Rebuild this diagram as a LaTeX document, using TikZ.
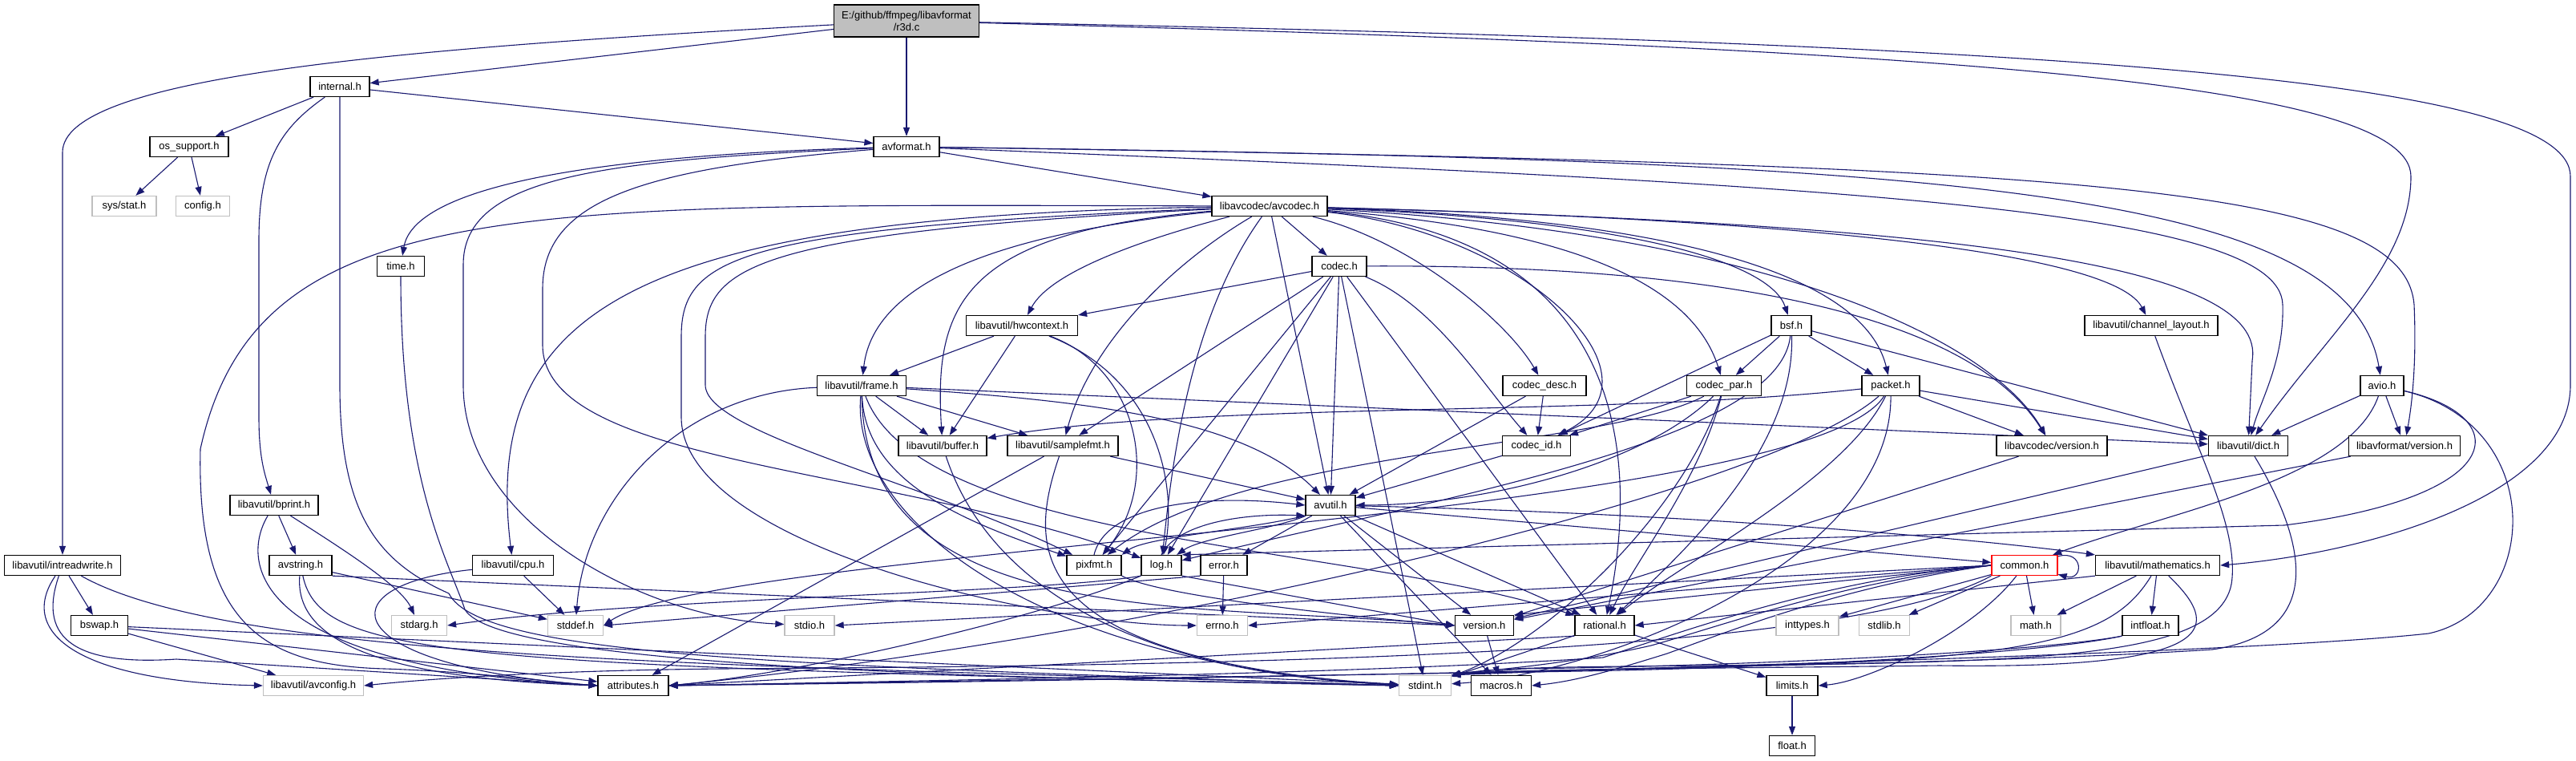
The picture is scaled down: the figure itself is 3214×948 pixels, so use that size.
\documentclass[tikz,border=0pt]{standalone}
\usepackage{fontspec}
\setmainfont{Liberation Sans}
\usetikzlibrary{arrows.meta}
\definecolor{edgec}{HTML}{191970}
\definecolor{extc}{HTML}{BFBFBF}
\definecolor{rootfill}{HTML}{BFBFBF}
\pgfdeclarelayer{bg}
\pgfsetlayers{bg,main}
\begin{document}
\begin{tikzpicture}[x=1pt,y=-1pt,
  nd/.style={draw=black, fill=white, line width=1.3pt, minimum height=25pt, inner sep=0pt, font=\fontsize{13}{15}\selectfont},
  ext/.style={nd, draw=extc},
  ln/.style={draw=edgec, line width=1.1pt, -{Triangle[length=11pt,width=8pt]}},
]
\useasboundingbox (0,0) rectangle (3214,948);

\node[nd, fill=rootfill, minimum width=181pt, minimum height=40pt, align=center] (r3d) at (1131,26) {E:/github/ffmpeg/libavformat\\/r3d.c};
\node[nd, minimum width=74pt] (internal) at (424,108) {internal.h};
\node[nd, minimum width=82pt] (avformat) at (1131,183) {avformat.h};
\node[nd, minimum width=98pt] (osup) at (236,183) {os\_support.h};
\node[ext, minimum width=80pt] (sysstat) at (155,257) {sys/stat.h};
\node[ext, minimum width=67pt] (config) at (253,257) {config.h};
\node[nd, minimum width=144pt] (avcodec) at (1584,257) {libavcodec/avcodec.h};
\node[nd, minimum width=59pt] (timeh) at (500,332) {time.h};
\node[nd, minimum width=68pt] (codec) at (1671,332) {codec.h};
\node[nd, minimum width=139pt] (hwctx) at (1275,406) {libavutil/hwcontext.h};
\node[nd, minimum width=50pt] (bsf) at (2235,406) {bsf.h};
\node[nd, minimum width=166pt] (chl) at (2684,406) {libavutil/channel\_layout.h};
\node[nd, minimum width=111pt] (frame) at (1075,481) {libavutil/frame.h};
\node[nd, minimum width=104pt] (cdesc) at (1927,481) {codec\_desc.h};
\node[nd, minimum width=93pt] (cpar) at (2151,481) {codec\_par.h};
\node[nd, minimum width=72pt] (packet) at (2359,481) {packet.h};
\node[nd, minimum width=54pt] (avio) at (2972,481) {avio.h};
\node[nd, minimum width=110pt] (buffer) at (1176,556) {libavutil/buffer.h};
\node[nd, minimum width=138pt] (sfmt) at (1326,556) {libavutil/samplefmt.h};
\node[nd, minimum width=85pt] (cid) at (1917,556) {codec\_id.h};
\node[nd, minimum width=138pt] (lcver) at (2560,556) {libavcodec/version.h};
\node[nd, minimum width=99pt] (dict) at (2805,556) {libavutil/dict.h};
\node[nd, minimum width=139pt] (lfver) at (3000,556) {libavformat/version.h};
\node[nd, minimum width=110pt] (bprint) at (342,630) {libavutil/bprint.h};
\node[nd, minimum width=62pt] (avutil) at (1660,630) {avutil.h};
\node[nd, minimum width=145pt] (irw) at (78,705) {libavutil/intreadwrite.h};
\node[nd, minimum width=78pt] (avstring) at (375,705) {avstring.h};
\node[nd, minimum width=101pt] (cpu) at (640,705) {libavutil/cpu.h};
\node[nd, minimum width=68pt] (pixfmt) at (1365,705) {pixfmt.h};
\node[nd, minimum width=50pt] (log) at (1449,705) {log.h};
\node[nd, minimum width=58pt] (error) at (1527,705) {error.h};
\node[nd, draw=red, minimum width=82pt] (common) at (2526,705) {common.h};
\node[nd, minimum width=155pt] (mathem) at (2692,705) {libavutil/mathematics.h};
\node[nd, minimum width=71pt] (bswap) at (124,780) {bswap.h};
\node[ext, minimum width=69pt] (stdarg) at (523,780) {stdarg.h};
\node[ext, minimum width=69pt] (stddef) at (718,780) {stddef.h};
\node[ext, minimum width=62pt] (stdio) at (1010,780) {stdio.h};
\node[ext, minimum width=63pt] (errno) at (1525,780) {errno.h};
\node[nd, minimum width=73pt] (version) at (1852,780) {version.h};
\node[nd, minimum width=74pt] (rational) at (2002,780) {rational.h};
\node[ext, minimum width=78pt] (inttypes) at (2255,780) {inttypes.h};
\node[ext, minimum width=63pt] (stdlib) at (2351,780) {stdlib.h};
\node[ext, minimum width=62pt] (mathh) at (2540,780) {math.h};
\node[nd, minimum width=70pt] (intfloat) at (2683,780) {intfloat.h};
\node[ext, minimum width=125pt] (avconfig) at (391,855) {libavutil/avconfig.h};
\node[nd, minimum width=88pt] (attrib) at (790,855) {attributes.h};
\node[ext, minimum width=65pt] (stdint) at (1778,855) {stdint.h};
\node[nd, minimum width=75pt] (macros) at (1873,855) {macros.h};
\node[nd, minimum width=64pt] (limits) at (2236,855) {limits.h};
\node[nd, minimum width=57pt] (floath) at (2236,930) {float.h};

\begin{pgfonlayer}{bg}
\fill[white] (0,0) rectangle (3214,948);
% r3d.c
\draw[ln] (r3d) -- (internal);
\draw[ln] (r3d) .. controls (500,60) and (78,95) .. (78,190) -- (irw);
\draw[ln] (r3d) -- (avformat);
\draw[ln] (r3d) .. controls (2400,60) and (3008,100) .. (3008,220) .. controls (3008,330) and (2900,420) .. (dict);
\draw[ln] (r3d) .. controls (2600,55) and (3207,100) .. (3207,220) -- (3207,480) .. controls (3207,620) and (2950,690) .. (mathem.east);
% internal.h
\draw[ln] (internal) -- (osup);
\draw[ln] (internal) -- (avformat);
\draw[ln] (internal) .. controls (350,160) and (323,200) .. (323,300) -- (323,520) .. controls (323,570) and (330,590) .. (bprint);
\draw[ln] (internal) -- (424,480) .. controls (424,640) and (470,700) .. (560,740) .. controls (600,820) and (1000,830) .. (stdint.west);
% os_support.h
\draw[ln] (osup) -- (sysstat);
\draw[ln] (osup) -- (config);
% avformat.h
\draw[ln] (avformat) .. controls (700,195) and (515,240) .. (timeh);
\draw[ln] (avformat) .. controls (750,200) and (578,220) .. (578,330) -- (578,480) .. controls (578,650) and (800,770) .. (stdio);
\draw[ln] (avformat) .. controls (800,210) and (677,250) .. (677,360) -- (677,430) .. controls (677,580) and (1100,580) .. (log);
\draw[ln] (avformat) -- (avcodec);
\draw[ln] (avformat) .. controls (2400,200) and (2930,230) .. (avio);
\draw[ln] (avformat) .. controls (2600,205) and (3000,230) .. (3012,380) .. controls (3015,450) and (3010,500) .. (lfver);
\draw[ln] (avformat) .. controls (2300,230) and (2845,260) .. (2848,380) .. controls (2850,450) and (2820,500) .. (dict);
% avcodec.h
\draw[ln] (avcodec) -- (codec);
\draw[ln] (avcodec) .. controls (800,270) and (600,380) .. (cpu);
\draw[ln] (avcodec) .. controls (650,255) and (320,240) .. (250,560) .. controls (245,780) and (330,830) .. (480,834) .. controls (600,838) and (680,850) .. (attrib.west);
\draw[ln] (avcodec) .. controls (1250,290) and (1090,350) .. (frame);
\draw[ln] (avcodec) .. controls (1420,300) and (1310,340) .. (hwctx);
\draw[ln] (avcodec) .. controls (1200,290) and (1165,380) .. (buffer);
\draw[ln] (avcodec) .. controls (1460,330) and (1360,430) .. (sfmt);
\draw[ln] (avcodec) -- (avutil);
\draw[ln] (avcodec) .. controls (1760,300) and (1880,400) .. (cdesc);
\draw[ln] (avcodec) .. controls (1900,290) and (2090,470) .. (cid);
\draw[ln] (avcodec) .. controls (1950,285) and (2110,350) .. (cpar);
\draw[ln] (avcodec) .. controls (2050,275) and (2210,330) .. (bsf);
\draw[ln] (avcodec) .. controls (2150,275) and (2330,360) .. (packet);
\draw[ln] (avcodec) .. controls (2300,275) and (2640,320) .. (chl);
\draw[ln] (avcodec) .. controls (2450,280) and (2830,330) .. (2810,450) -- (dict);
\draw[ln] (avcodec) .. controls (2200,290) and (2480,420) .. (lcver);
\draw[ln] (avcodec) .. controls (1480,400) and (1460,600) .. (log);
\draw[ln] (avcodec) .. controls (950,290) and (880,330) .. (880,420) -- (880,480) .. controls (880,540) and (1150,600) .. (pixfmt);
\draw[ln] (avcodec) .. controls (920,285) and (850,320) .. (850,420) -- (850,520) .. controls (850,680) and (1300,780) .. (errno);
\draw[ln] (avcodec) .. controls (2050,300) and (2040,600) .. (rational);
% codec.h
\draw[ln] (codec) -- (avutil);
\draw[ln] (codec) -- (hwctx);
\draw[ln] (codec) -- (sfmt);
\draw[ln] (codec) -- (pixfmt);
\draw[ln] (codec) -- (log);
\draw[ln] (codec) -- (stdint);
\draw[ln] (codec) -- (rational);
\draw[ln] (codec) .. controls (1790,380) and (1850,480) .. (cid);
\draw[ln] (codec) .. controls (2100,330) and (2450,380) .. (lcver);
% hwcontext.h
\draw[ln] (hwctx) -- (frame);
\draw[ln] (hwctx) -- (buffer);
\draw[ln] (hwctx) .. controls (1440,470) and (1470,600) .. (log);
\draw[ln] (hwctx) .. controls (1420,460) and (1450,600) .. (pixfmt);
% frame.h
\draw[ln] (frame) -- (buffer);
\draw[ln] (frame) -- (sfmt);
\draw[ln] (frame) -- (dict);
\draw[ln] (frame) .. controls (850,490) and (730,620) .. (stddef);
\draw[ln] (frame) .. controls (1060,650) and (1300,830) .. (stdint);
\draw[ln] (frame) .. controls (1350,500) and (1550,520) .. (avutil);
\draw[ln] (frame) .. controls (1080,600) and (1200,650) .. (pixfmt);
\draw[ln] (frame) .. controls (1150,680) and (1700,680) .. (rational);
\draw[ln] (frame) .. controls (1080,790) and (1500,750) .. (version.west);
% buffer.h, samplefmt.h
\draw[ln] (buffer) .. controls (1230,720) and (1400,840) .. (stdint);
\draw[ln] (sfmt) -- (attrib);
\draw[ln] (sfmt) .. controls (1280,690) and (1280,820) .. (stdint.west);
\draw[ln] (sfmt) -- (avutil);
% codec_desc, codec_id, codec_par
\draw[ln] (cdesc) -- (avutil);
\draw[ln] (cdesc) -- (cid);
\draw[ln] (cid) -- (avutil);
\draw[ln] (cpar) -- (cid);
\draw[ln] (cpar) .. controls (2050,580) and (1850,630) .. (avutil);
\draw[ln] (cpar) .. controls (2000,560) and (1550,560) .. (pixfmt);
\draw[ln] (cpar) .. controls (2120,600) and (2040,700) .. (rational);
\draw[ln] (cpar) .. controls (2100,640) and (1930,800) .. (stdint);
% bsf.h
\draw[ln] (bsf) -- (cpar);
\draw[ln] (bsf) -- (packet);
\draw[ln] (bsf) -- (cid);
\draw[ln] (bsf) -- (dict);
\draw[ln] (bsf) .. controls (2220,550) and (1800,620) .. (log);
\draw[ln] (bsf) .. controls (2240,560) and (2100,690) .. (rational);
% packet.h
\draw[ln] (packet) .. controls (2000,520) and (1500,500) .. (buffer);
\draw[ln] (packet) -- (dict);
\draw[ln] (packet) -- (lcver);
\draw[ln] (packet) .. controls (2300,600) and (2100,700) .. (rational);
\draw[ln] (packet) .. controls (2200,620) and (1400,800) .. (attrib.east);
\draw[ln] (packet) .. controls (2360,700) and (2000,840) .. (stdint);
\draw[ln] (packet) .. controls (2250,650) and (900,680) .. (stddef.east);
% channel_layout, versions, dict
\draw[ln] (chl) .. controls (2740,560) and (2790,650) .. (2785,720) .. controls (2780,810) and (2600,822) .. (2300,828) .. controls (2000,832) and (1880,830) .. (stdint.north east);
\draw[ln] (lcver) -- (version);
\draw[ln] (dict) -- (version);
\draw[ln] (dict) .. controls (2880,680) and (2900,790) .. (2760,810) .. controls (2450,830) and (1950,832) .. (stdint.north east);
\draw[ln] (lfver) -- (version);
% avio.h
\draw[ln] (avio) -- (dict);
\draw[ln] (avio) -- (lfver);
\draw[ln] (avio) .. controls (2930,600) and (2700,640) .. (common);
\draw[ln] (avio) .. controls (3140,520) and (3130,620) .. (2850,655) -- (log.north east);
\draw[ln] (avio) .. controls (3180,530) and (3170,760) .. (3030,790) .. controls (2800,815) and (2100,830) .. (stdint.north east);
% avutil.h
\draw[ln] (avutil) -- (common);
\draw[ln] (avutil) .. controls (2100,640) and (2450,670) .. (mathem.north west);
\draw[ln] (avutil) -- (error);
\draw[ln] (avutil) .. controls (1590,660) and (1500,670) .. (log);
\draw[ln] (log.north) .. controls (1470,650) and (1560,640) .. (avutil.south west);
\draw[ln] (avutil.south west) .. controls (1560,660) and (1430,670) .. (pixfmt.north east);
\draw[ln] (pixfmt.north) .. controls (1380,630) and (1500,615) .. (avutil.west);
\draw[ln] (avutil) -- (rational);
\draw[ln] (avutil) -- (version);
\draw[ln] (avutil) -- (macros);
% common.h
\draw[ln] (common) .. controls (2600,685) and (2600,725) .. (common);
\draw[ln] (common.west) -- (errno.east);
\draw[ln] (common.west) -- (stdio.east);
\draw[ln] (common.west) -- (version.north east);
\draw[ln] (common.south west) .. controls (2300,820) and (1500,830) .. (900,834) .. controls (700,836) and (550,845) .. (avconfig.east);
\draw[ln] (common.west) .. controls (2300,720) and (2150,770) .. (2000,820) .. controls (1700,840) and (1200,848) .. (attrib.east);
\draw[ln] (common.west) .. controls (2300,725) and (2150,780) .. (2060,805) .. controls (1950,830) and (1850,836) .. (stdint.north east);
\draw[ln] (common.west) .. controls (2300,730) and (2150,790) .. (2080,815) .. controls (2000,840) and (1960,850) .. (macros.east);
\draw[ln] (common) .. controls (2460,790) and (2330,850) .. (limits.east);
\draw[ln] (common) -- (inttypes);
\draw[ln] (common) -- (stdlib);
\draw[ln] (common) -- (mathh);
% mathematics.h
\draw[ln] (mathem) -- (mathh);
\draw[ln] (mathem) -- (intfloat);
\draw[ln] (mathem.south west) -- (rational.east);
\draw[ln] (mathem) .. controls (2640,790) and (2560,820) .. (2200,830) .. controls (1600,845) and (1100,852) .. (attrib.east);
\draw[ln] (mathem) .. controls (2770,780) and (2780,835) .. (2420,830) .. controls (2100,834) and (1900,834) .. (stdint.north east);
% intfloat.h, rational.h, version.h, limits.h
\draw[ln] (intfloat.south west) .. controls (2550,815) and (2200,835) .. (1900,838) -- (attrib.east);
\draw[ln] (intfloat.south west) .. controls (2550,812) and (2200,830) .. (1900,834) -- (stdint.north east);
\draw[ln] (rational) -- (stdint);
\draw[ln] (rational) -- (limits);
\draw[ln] (rational.south west) -- (attrib.east);
\draw[ln] (version) -- (macros);
\draw[ln] (limits) -- (floath);
% log.h, pixfmt.h, error.h
\draw[ln] (log.south west) .. controls (1300,740) and (800,745) .. (stdarg.east);
\draw[ln] (log.south west) .. controls (1300,770) and (1000,840) .. (attrib.east);
\draw[ln] (log.south east) -- (version.west);
\draw[ln] (pixfmt.south east) .. controls (1450,745) and (1700,770) .. (version.west);
\draw[ln] (error) -- (errno);
\draw[ln] (error.south west) -- (stddef.east);
% avstring.h, bprint.h
\draw[ln] (avstring) -- (stddef);
\draw[ln] (avstring.south east) -- (version.west);
\draw[ln] (avstring) .. controls (368,790) and (450,845) .. (attrib.west);
\draw[ln] (avstring) .. controls (400,820) and (560,830) .. (stdint.west);
\draw[ln] (bprint) -- (avstring);
\draw[ln] (bprint) .. controls (420,680) and (500,730) .. (stdarg);
\draw[ln] (bprint) .. controls (300,700) and (310,830) .. (attrib.west);
% intreadwrite.h, bswap.h
\draw[ln] (irw) -- (bswap);
\draw[ln] (irw) .. controls (20,790) and (100,850) .. (avconfig.west);
\draw[ln] (irw) .. controls (45,800) and (100,830) .. (220,822) -- (attrib.west);
\draw[ln] (irw) .. controls (300,830) and (1000,830) .. (stdint.west);
\draw[ln] (bswap) -- (avconfig);
\draw[ln] (bswap) -- (attrib);
\draw[ln] (bswap) -- (stdint);
% cpu.h, time.h
\draw[ln] (cpu) -- (stddef);
\draw[ln] (cpu) .. controls (400,730) and (420,830) .. (attrib.west);
\draw[ln] (timeh) .. controls (500,600) and (560,700) .. (580,760) .. controls (620,830) and (1200,845) .. (stdint.west);
\end{pgfonlayer}
\end{tikzpicture}
\end{document}
